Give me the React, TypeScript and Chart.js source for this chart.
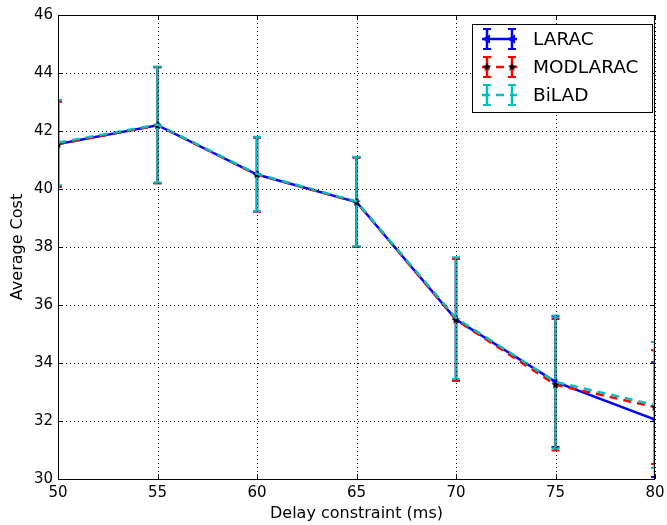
import React, { useEffect, useRef } from 'react';
import { Chart, registerables } from 'chart.js';

Chart.register(...registerables);

// ---- data ----
const delays = [50, 55, 60, 65, 70, 75, 80];
const laracCost = [41.55, 42.2, 40.5, 39.55, 35.5, 33.35, 32.05];
const laracErr = [1.47, 2.0, 1.28, 1.54, 2.1, 2.25, 1.98];
const modlaracCost = [41.55, 42.2, 40.5, 39.55, 35.49, 33.25, 32.48];
const modlaracErr = [1.47, 2.0, 1.28, 1.54, 2.1, 2.27, 1.96];
const biladCost = [41.6, 42.22, 40.52, 39.57, 35.55, 33.35, 32.55];
const biladErr = [1.47, 2.0, 1.28, 1.54, 2.1, 2.29, 2.17];
const seriesNames = ['LARAC', 'MODLARAC', 'BiLAD'];
const xTicks = [50, 55, 60, 65, 70, 75, 80];
const yTicks = [30, 32, 34, 36, 38, 40, 42, 44, 46];

const BLUE = '#0000ff';
const RED = '#ff0000';
const CYAN = '#00bfbf';
const FONT = "'DejaVu Sans', sans-serif";
const DASH = [8, 6];

function makeStar(size: number, fill: string): HTMLCanvasElement {
  const c = document.createElement('canvas');
  c.width = size;
  c.height = size;
  const g = c.getContext('2d')!;
  const cx = size / 2, cy = size / 2, R = size / 2, r = R * 0.42;
  g.beginPath();
  for (let i = 0; i < 10; i++) {
    const a = -Math.PI / 2 + (i * Math.PI) / 5;
    const rr = i % 2 === 0 ? R : r;
    const px = cx + rr * Math.cos(a), py = cy + rr * Math.sin(a);
    if (i === 0) g.moveTo(px, py); else g.lineTo(px, py);
  }
  g.closePath();
  g.fillStyle = fill;
  g.fill();
  return c;
}

const errorSets = [laracErr, modlaracErr, biladErr];

function drawErrorBar(ctx: CanvasRenderingContext2D, px: number, top: number, bot: number, color: string, cap: number) {
  ctx.strokeStyle = color;
  ctx.lineWidth = 2.5;
  ctx.setLineDash([]);
  ctx.beginPath();
  ctx.moveTo(px, top);
  ctx.lineTo(px, bot);
  ctx.stroke();
  ctx.lineWidth = 2;
  ctx.beginPath();
  ctx.moveTo(px - cap, top);
  ctx.lineTo(px + cap, top);
  ctx.moveTo(px - cap, bot);
  ctx.lineTo(px + cap, bot);
  ctx.stroke();
}

const decorPlugin = {
  id: 'decor',
  beforeDatasetsDraw(chart: any) {
    const { ctx, chartArea: a, scales } = chart;
    const x = scales.x, y = scales.y;
    ctx.save();
    ctx.beginPath();
    ctx.rect(a.left, a.top, a.right - a.left, a.bottom - a.top);
    ctx.clip();
    chart.data.datasets.forEach((ds: any, i: number) => {
      const errs = errorSets[i];
      ds.data.forEach((p: any, j: number) => {
        const px = x.getPixelForValue(p.x);
        const top = y.getPixelForValue(p.y + errs[j]);
        const bot = y.getPixelForValue(p.y - errs[j]);
        drawErrorBar(ctx, px, top, bot, ds.borderColor, 4);
      });
    });
    ctx.restore();
  },
  afterDatasetsDraw(chart: any) {
    const { ctx, chartArea: a, scales } = chart;
    const x = scales.x, y = scales.y;
    ctx.save();
    // grid (drawn above data, dotted)
    ctx.strokeStyle = '#000';
    ctx.lineWidth = 1;
    ctx.setLineDash([1, 3]);
    xTicks.forEach((t) => {
      const px = Math.round(x.getPixelForValue(t)) + 0.5;
      ctx.beginPath();
      ctx.moveTo(px, a.top);
      ctx.lineTo(px, a.bottom);
      ctx.stroke();
    });
    yTicks.forEach((t) => {
      const py = Math.round(y.getPixelForValue(t)) + 0.5;
      ctx.beginPath();
      ctx.moveTo(a.left, py);
      ctx.lineTo(a.right, py);
      ctx.stroke();
    });
    // inner ticks
    ctx.setLineDash([]);
    const tl = 5;
    xTicks.forEach((t) => {
      const px = Math.round(x.getPixelForValue(t)) + 0.5;
      ctx.beginPath();
      ctx.moveTo(px, a.bottom);
      ctx.lineTo(px, a.bottom - tl);
      ctx.moveTo(px, a.top);
      ctx.lineTo(px, a.top + tl);
      ctx.stroke();
    });
    yTicks.forEach((t) => {
      const py = Math.round(y.getPixelForValue(t)) + 0.5;
      ctx.beginPath();
      ctx.moveTo(a.left, py);
      ctx.lineTo(a.left + tl, py);
      ctx.moveTo(a.right, py);
      ctx.lineTo(a.right - tl, py);
      ctx.stroke();
    });
    // frame
    ctx.strokeRect(Math.round(a.left) + 0.5, Math.round(a.top) + 0.5, Math.round(a.right - a.left) - 1, Math.round(a.bottom - a.top));

    // legend
    const lx = 472, ly = 24, lw = 180, lh = 88;
    ctx.fillStyle = '#fff';
    ctx.fillRect(lx, ly, lw, lh);
    ctx.strokeStyle = '#000';
    ctx.lineWidth = 1;
    ctx.strokeRect(lx + 0.5, ly + 0.5, lw, lh);
    const rows = [39, 67, 95];
    const colors = [BLUE, RED, CYAN];
    const hx0 = 482, hx1 = 517, b0 = 487, b1 = 512;
    chart.data.datasets.forEach((ds: any, i: number) => {
      const ry = rows[i];
      const col = colors[i];
      ctx.strokeStyle = col;
      ctx.lineWidth = 2.5;
      ctx.setLineDash(i === 0 ? [] : DASH);
      ctx.beginPath();
      ctx.moveTo(hx0, ry);
      ctx.lineTo(hx1, ry);
      ctx.stroke();
      drawErrorBar(ctx, b0, ry - 10, ry + 10, col, 4);
      drawErrorBar(ctx, b1, ry - 10, ry + 10, col, 4);
      if (i === 0) {
        ctx.fillStyle = BLUE;
        [b0, b1].forEach((mx) => {
          ctx.beginPath();
          ctx.moveTo(mx - 5, ry);
          ctx.lineTo(mx + 3, ry - 4.5);
          ctx.lineTo(mx + 3, ry + 4.5);
          ctx.closePath();
          ctx.fill();
        });
      } else if (i === 1) {
        const st = ds.pointStyle as HTMLCanvasElement;
        [b0, b1].forEach((mx) => ctx.drawImage(st, mx - st.width / 2, ry - st.height / 2));
      }
      ctx.fillStyle = '#000';
      ctx.font = `18.5px ${FONT}`;
      ctx.textAlign = 'left';
      ctx.textBaseline = 'middle';
      ctx.fillText(seriesNames[i], 533, ry + 1);
    });
    ctx.restore();
  },
};

export default function App() {
  const ref = useRef<HTMLCanvasElement | null>(null);
  useEffect(() => {
    document.body.style.margin = '0';
    const star = makeStar(9, '#000');
    const toPts = (ys: number[]) => delays.map((d, i) => ({ x: d, y: ys[i] }));
    const chart = new Chart(ref.current!, {
      type: 'line',
      data: {
        datasets: [
          {
            label: seriesNames[0],
            data: toPts(laracCost),
            borderColor: BLUE,
            backgroundColor: BLUE,
            borderWidth: 2.5,
            pointStyle: 'triangle',
            rotation: -90,
            pointRadius: 4,
            pointBackgroundColor: BLUE,
            pointBorderColor: BLUE,
            pointBorderWidth: 0,
            clip: 0,
            order: 2,
          } as any,
          {
            label: seriesNames[1],
            data: toPts(modlaracCost),
            borderColor: RED,
            backgroundColor: '#000',
            borderWidth: 2.5,
            borderDash: DASH,
            pointStyle: star,
            pointRadius: 4,
            clip: 0,
            order: 1,
          } as any,
          {
            label: seriesNames[2],
            data: toPts(biladCost),
            borderColor: CYAN,
            backgroundColor: CYAN,
            borderWidth: 2.5,
            borderDash: DASH,
            pointRadius: 0,
            clip: 0,
            order: 0,
          } as any,
        ],
      },
      options: {
        responsive: false,
        animation: false,
        events: [],
        layout: { padding: { top: 15, right: 12, left: 0, bottom: 0 } },
        plugins: { legend: { display: false }, tooltip: { enabled: false } },
        scales: {
          x: {
            type: 'linear',
            min: 50,
            max: 80,
            grid: { display: false, drawTicks: false },
            border: { display: false },
            ticks: { stepSize: 5, color: '#000', font: { family: FONT, size: 15 }, padding: 5, maxRotation: 0 },
            title: { display: true, text: 'Delay constraint (ms)', color: '#000', font: { family: FONT, size: 16 }, padding: { top: 0, bottom: 2 } },
            afterFit: (s: any) => { s.height = 46; s.paddingLeft = 0; s.paddingRight = 0; },
          },
          y: {
            type: 'linear',
            min: 30,
            max: 46,
            grid: { display: false, drawTicks: false },
            border: { display: false },
            ticks: { stepSize: 2, color: '#000', font: { family: FONT, size: 15 }, padding: 5 },
            title: { display: true, text: 'Average Cost', color: '#000', font: { family: FONT, size: 16 }, padding: { top: 8, bottom: 0 } },
            afterFit: (s: any) => { s.width = 58; s.paddingTop = 0; s.paddingBottom = 0; },
          },
        },
      } as any,
      plugins: [decorPlugin],
    });
    return () => chart.destroy();
  }, []);
  return <canvas ref={ref} width={667} height={525} style={{ display: 'block' }} />;
}
